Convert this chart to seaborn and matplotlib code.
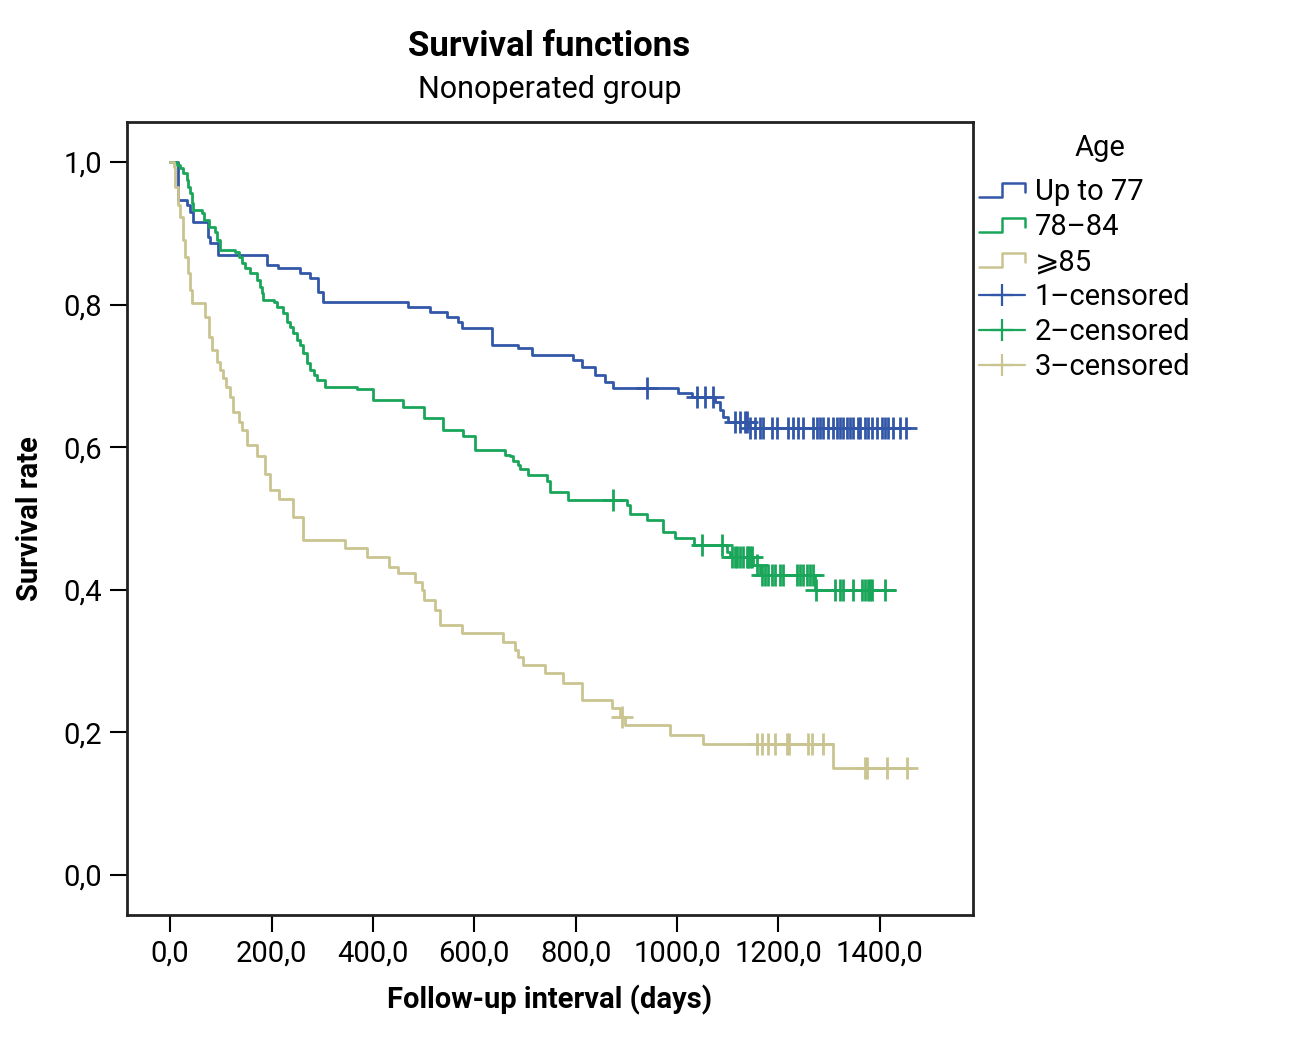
import matplotlib
matplotlib.use("Agg")
import matplotlib.pyplot as plt
from matplotlib.legend_handler import HandlerBase
from matplotlib.lines import Line2D
import numpy as np
import pandas as pd
import seaborn as sns

# %% data

groups = ["Up to 77", "78\u201384", "\u2a7e85"]
colors = ["#3357a8", "#1aa65a", "#c9c490"]

blue_t = [0, 16, 33, 39, 45, 75, 79, 95, 191, 213, 256, 276, 292, 302, 469, 513, 546,
          568, 576, 635, 686, 714, 795, 812, 838, 858, 874, 1002, 1030, 1075, 1085,
          1091, 1100, 1140]
blue_s = [1.0, 0.947, 0.940, 0.930, 0.916, 0.895, 0.886, 0.870, 0.856, 0.851, 0.844,
          0.837, 0.818, 0.804, 0.797, 0.790, 0.783, 0.775, 0.767, 0.743, 0.739, 0.729,
          0.722, 0.713, 0.701, 0.691, 0.683, 0.676, 0.670, 0.663, 0.652, 0.642, 0.635,
          0.627]
blue_cens = [941, 1039, 1055, 1071, 1114, 1124, 1134, 1138, 1144, 1154, 1164, 1170,
             1187, 1197, 1219, 1229, 1239, 1249, 1268, 1276, 1282, 1288, 1298, 1308,
             1316, 1322, 1328, 1336, 1342, 1348, 1356, 1361, 1371, 1377, 1385, 1395,
             1405, 1410, 1416, 1426, 1440, 1452]
blue_end = 1458

green_t = [0, 13, 20, 26, 33, 36, 39, 43, 46, 62, 66, 76, 89, 92, 99, 128, 135, 141,
           148, 158, 171, 178, 181, 184, 204, 210, 223, 230, 237, 243, 250, 256, 263,
           270, 276, 283, 289, 306, 368, 401, 460, 500, 539, 578, 601, 661, 671, 677,
           687, 690, 706, 743, 750, 785, 901, 907, 940, 973, 996, 1034, 1098, 1104,
           1150, 1164, 1272]
green_s = [1.0, 0.996, 0.991, 0.984, 0.975, 0.965, 0.956, 0.942, 0.933, 0.928, 0.919,
           0.909, 0.902, 0.891, 0.877, 0.874, 0.867, 0.858, 0.851, 0.844, 0.834, 0.825,
           0.816, 0.806, 0.804, 0.797, 0.788, 0.776, 0.769, 0.760, 0.750, 0.743, 0.732,
           0.718, 0.708, 0.701, 0.694, 0.685, 0.682, 0.666, 0.657, 0.641, 0.624, 0.615,
           0.596, 0.589, 0.587, 0.580, 0.575, 0.570, 0.561, 0.552, 0.537, 0.526, 0.519,
           0.507, 0.498, 0.481, 0.472, 0.463, 0.453, 0.446, 0.435, 0.421, 0.400]
green_cens = [874, 1049, 1089, 1108, 1114, 1118, 1124, 1130, 1138, 1140, 1144, 1148,
              1158, 1168, 1174, 1180, 1187, 1193, 1203, 1209, 1237, 1243, 1249, 1256,
              1262, 1268, 1275, 1312, 1321, 1328, 1347, 1365, 1371, 1377, 1381, 1385,
              1410]
green_end = 1430

tan_t = [0, 7, 10, 16, 20, 26, 30, 36, 39, 43, 69, 76, 82, 92, 99, 105, 110, 118, 125,
         135, 141, 151, 171, 187, 197, 214, 243, 263, 345, 388, 431, 450, 483, 496, 500,
         523, 533, 575, 657, 680, 687, 697, 740, 776, 812, 871, 888, 897, 986, 1052, 1308]
tan_s = [1.0, 0.993, 0.965, 0.940, 0.923, 0.891, 0.867, 0.844, 0.820, 0.802, 0.783,
         0.755, 0.736, 0.720, 0.708, 0.697, 0.685, 0.671, 0.650, 0.635, 0.624, 0.603,
         0.587, 0.563, 0.540, 0.528, 0.502, 0.470, 0.458, 0.446, 0.432, 0.423, 0.411,
         0.400, 0.386, 0.372, 0.351, 0.339, 0.327, 0.316, 0.306, 0.295, 0.283, 0.270,
         0.245, 0.234, 0.222, 0.210, 0.196, 0.184, 0.150]
tan_cens = [891, 1158, 1168, 1180, 1193, 1217, 1221, 1258, 1266, 1288, 1371, 1375,
            1414, 1454]
tan_end = 1460

x_ticks = [0, 200, 400, 600, 800, 1000, 1200, 1400]
x_labels = ["0,0", "200,0", "400,0", "600,0", "800,0", "1000,0", "1200,0", "1400,0"]
y_ticks = [0.0, 0.2, 0.4, 0.6, 0.8, 1.0]
y_labels = ["0,0", "0,2", "0,4", "0,6", "0,8", "1,0"]

# %% long-form tables

curves = [(blue_t, blue_s, blue_cens, blue_end),
          (green_t, green_s, green_cens, green_end),
          (tan_t, tan_s, tan_cens, tan_end)]

line_rows, cens_rows = [], []
for g, (t, s, c, end) in zip(groups, curves):
    for ti, si in zip(t + [end], s + [s[-1]]):
        line_rows.append({"group": g, "time": ti, "survival": si})
    idx = np.searchsorted(t, c, side="right") - 1
    for ci, k in zip(c, idx):
        cens_rows.append({"group": g, "time": ci, "survival": s[k]})
lines_df = pd.DataFrame(line_rows)
cens_df = pd.DataFrame(cens_rows)
palette = dict(zip(groups, colors))

# %% plot

sns.set_style("white")
plt.rcParams["font.family"] = ["Roboto", "DejaVu Sans"]
plt.rcParams["text.color"] = "black"
plt.rcParams["axes.labelcolor"] = "black"
plt.rcParams["xtick.color"] = "black"
plt.rcParams["ytick.color"] = "black"

fig = plt.figure(figsize=(12.99, 10.40), dpi=100)
ax = fig.add_axes([0.0978, 0.1202, 0.6513, 0.7625])

sns.lineplot(data=lines_df, x="time", y="survival", hue="group", palette=palette,
             estimator=None, sort=False, drawstyle="steps-post", linewidth=2.0,
             legend=False, ax=ax)
sns.scatterplot(data=cens_df, x="time", y="survival", hue="group", palette=palette,
                marker="+", s=260, linewidth=2.0, legend=False, ax=ax)

ax.set_xlim(-85, 1584)
ax.set_ylim(-0.056, 1.056)
ax.set_xticks(x_ticks)
ax.set_xticklabels(x_labels)
ax.set_yticks(y_ticks)
ax.set_yticklabels(y_labels)
ax.tick_params(axis="both", direction="out", length=12, width=1.5, labelsize=21,
               left=True, bottom=True, pad=6)
for sp in ax.spines.values():
    sp.set_visible(True)
    sp.set_linewidth(2)
    sp.set_color("#222222")

ax.set_xlabel("Follow-up interval (days)", fontsize=21, fontweight="bold", labelpad=12)
ax.set_ylabel("Survival rate", fontsize=21, fontweight="bold", labelpad=14)

fig.text(0.423, 0.955, "Survival functions", ha="center", va="center",
         fontsize=25, fontweight="bold")
fig.text(0.423, 0.914, "Nonoperated group", ha="center", va="center", fontsize=22)


class StepHandler(HandlerBase):
    def create_artists(self, legend, orig_handle, xdescent, ydescent, width, height,
                       fontsize, trans):
        xs = np.array([0, 0.5, 0.5, 1.0, 1.0]) * width - xdescent
        ys = np.array([0.15, 0.15, 0.85, 0.85, 0.4]) * height - ydescent
        ln = Line2D(xs, ys, color=orig_handle.get_color(), lw=1.8, transform=trans)
        return [ln]


step_handles = [Line2D([], [], color=c) for c in colors]
cens_handles = [Line2D([], [], color=c, lw=1.6, marker="+", markersize=16,
                       markeredgewidth=1.6) for c in colors]
labels = groups + ["1\u2013censored", "2\u2013censored", "3\u2013censored"]
fig.text(1100 / 1299, 1 - 148 / 1040, "Age", ha="center", va="center", fontsize=21)
leg = fig.legend(step_handles + cens_handles, labels,
                 handler_map={h: StepHandler() for h in step_handles},
                 loc="upper left", bbox_to_anchor=(0.745, 0.840), frameon=False,
                 fontsize=21, handlelength=1.55,
                 handletextpad=0.35, labelspacing=0.24, borderaxespad=0)

fig.savefig("out.png", dpi=100)
